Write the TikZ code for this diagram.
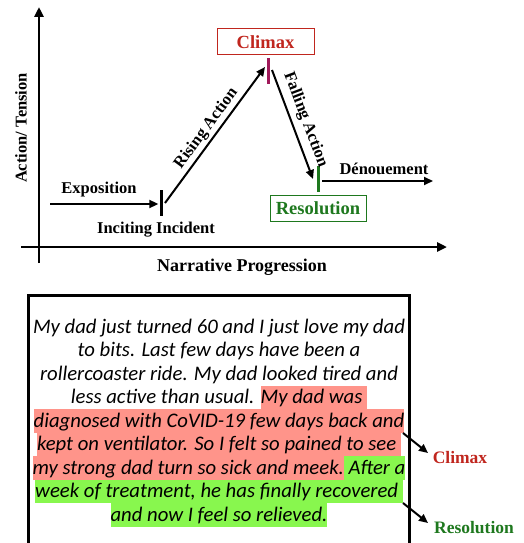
\documentclass[tikz,border=0pt]{standalone}
\usepackage{fontspec}
\setmainfont{Liberation Serif}
\newfontfamily\parafont{Carlito}[ItalicFont={Carlito Italic}]
\usetikzlibrary{arrows.meta}
\definecolor{climaxred}{RGB}{192,38,30}
\definecolor{resgreen}{RGB}{30,120,30}
\definecolor{tickpurple}{RGB}{160,25,90}
\definecolor{hlred}{RGB}{255,148,138}
\definecolor{hlgreen}{RGB}{136,247,78}
\newcommand{\hlr}[1]{{\setlength{\fboxsep}{0pt}\colorbox{hlred}{\rule[-5.5pt]{0pt}{23.5pt}#1}}}
\newcommand{\hlg}[1]{{\setlength{\fboxsep}{0pt}\colorbox{hlgreen}{\rule[-5.5pt]{0pt}{23.5pt}#1}}}
\begin{document}
\begin{tikzpicture}[x=1pt,y=-1pt,
  lbl/.style={font=\bfseries\fontsize{16.5}{18}\selectfont, inner sep=0pt},
  axis/.style={line width=2.5pt, -{Triangle[length=10pt,width=9pt]}},
  arr/.style={line width=2pt, -{Triangle[length=9pt,width=8pt]}},
  tickmark/.style={minimum width=3pt, minimum height=26pt, inner sep=0pt},
  stagebox/.style={draw, line width=1pt, font=\bfseries\fontsize{18.5}{20}\selectfont, minimum height=26pt, inner sep=0pt},
  para/.style={font=\parafont\itshape\fontsize{20.7}{23.5}\selectfont, anchor=base, inner sep=0pt},
  sidelbl/.style={font=\bfseries\fontsize{17.5}{19}\selectfont, inner sep=0pt}]
\useasboundingbox (0,0) rectangle (524,543);
% axes
\coordinate (ybot) at (39,263);
\coordinate (ytop) at (39,7);
\coordinate (xl) at (21,247);
\coordinate (xr) at (447,247);
\draw[axis] (ybot) -- (ytop);
\draw[axis] (xl) -- (xr);
\node[lbl, rotate=90] (ylab) at (21,128) {Action/ Tension};
\node[lbl, font=\bfseries\fontsize{18}{20}\selectfont] (xlab) at (242,267) {Narrative Progression};
% ticks
\node[tickmark, fill=black] (inct) at (161,203) {};
\node[tickmark, fill=tickpurple] (climt) at (268,71) {};
\node[tickmark, fill=resgreen] (rest) at (318,179) {};
% arrows
\coordinate (expostart) at (50,204);
\coordinate (denend) at (433,181);
\draw[arr] (expostart) -- ([xshift=-1pt]inct.west |- expostart);
\draw[arr] ([shift={(4,0)}]inct.center) -- ([shift={(-3,-4)}]climt.center);
\draw[arr] ([shift={(4,-1)}]climt.center) -- ([shift={(-5,0)}]rest.center);
\draw[arr] ([shift={(4,2)}]rest.center) -- (denend);
% labels
\node[lbl] (expo) at (99,190) {Exposition};
\node[lbl] (inc) at (156,230) {Inciting Incident};
\node[lbl] (den) at (384,169) {Dénouement};
\path ([shift={(4,0)}]inct.center) -- node[lbl, sloped, above=3pt] (rising) {Rising Action} ([shift={(-3,-4)}]climt.center);
\path ([shift={(4,-1)}]climt.center) -- node[lbl, sloped, above=6pt] (falling) {Falling Action} ([shift={(-5,0)}]rest.center);
\node[stagebox, draw=climaxred, text=climaxred, minimum width=97pt] (climax) at (265.5,42) {Climax};
\node[stagebox, draw=resgreen, text=resgreen, minimum width=96pt] (resol) at (318,208) {Resolution};
% story box
\coordinate (bl) at (28,546);
\coordinate (tl) at (28,295);
\coordinate (tr) at (409,295);
\coordinate (br) at (409,546);
\draw[line width=3pt, line join=miter] (bl) -- (tl) -- (tr) -- (br);
\node[para] (l1) at (219,333) {My dad just turned 60 and I just love my dad};
\node[para] (l2) at (219,356.5) {to bits. Last few days have been a};
\node[para] (l3) at (219,380) {rollercoaster ride. My dad looked tired and};
\node[para] (l4) at (219,403.5) {less active than usual. \hlr{My dad was }};
\node[para] (l5) at (219,427) {\hlr{diagnosed with CoVID-19 few days back and}};
\node[para] (l6) at (219,450.5) {\hlr{kept on ventilator. So I felt so pained to see }};
\node[para] (l7) at (219,474) {\hlr{my strong dad turn so sick and meek.}\hlg{ After a}};
\node[para] (l8) at (219,497.5) {\hlg{week of treatment, he has finally recovered }};
\node[para] (l9) at (219,521) {\hlg{and now I feel so relieved.}};
% side labels
\node[sidelbl, text=climaxred] (sclimax) at (460,458) {Climax};
\node[sidelbl, text=resgreen] (sres) at (474,528) {Resolution};
\coordinate (ca) at (403,433);
\coordinate (cb) at (428,453);
\coordinate (ra) at (403,503);
\coordinate (rb) at (428,523);
\draw[arr] (ca) -- (cb);
\draw[arr] (ra) -- (rb);
\end{tikzpicture}
\end{document}
